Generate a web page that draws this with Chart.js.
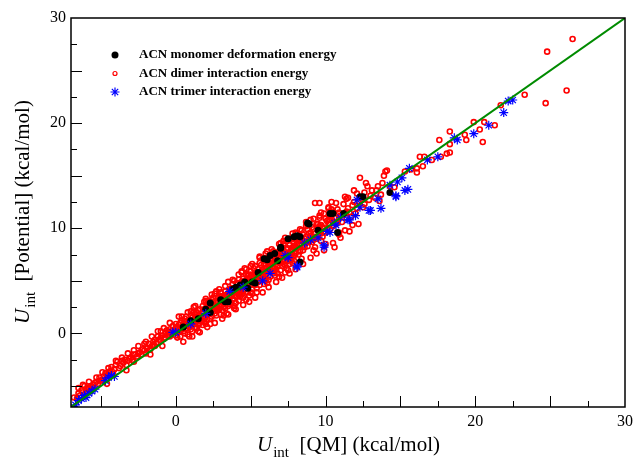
<!DOCTYPE html>
<html>
<head>
<meta charset="utf-8">
<title>Uint potential vs QM</title>
<script src="https://cdn.jsdelivr.net/npm/chart.js@4.4.1/dist/chart.umd.min.js"></script>
<style>
  html, body { margin: 0; padding: 0; background: #fff; }
  canvas { display: block; }
</style>
</head>
<body>
<canvas id="scatter" width="638" height="462"></canvas>
<script>
// values, [QM, potential] in kcal/mol
var seriesLabels = ['ACN monomer deformation energy', 'ACN dimer interaction energy', 'ACN trimer interaction energy'];

var monomerPts = [
  [0.5,0.6],[1.0,1.2],[1.5,1.4],[2.0,2.3],[2.3,2.9],[2.3,2.0],[3.0,3.2],[3.3,3.0],[3.5,3.0],[3.8,4.2],
  [4.0,4.4],[4.3,4.6],[4.6,4.9],[4.8,4.3],[5.1,4.9],[5.3,4.8],[5.5,5.8],[5.9,7.1],[6.1,7.0],[6.3,7.4],
  [6.6,7.6],[6.8,6.9],[7.0,8.1],[7.0,8.2],[7.5,9.0],[7.9,9.2],[8.1,9.3],[8.3,9.2],[8.3,6.8],[8.9,10.4],
  [8.8,10.5],[9.5,9.8],[10.3,11.4],[10.5,11.4],[10.8,9.6],[11.2,11.4],[12.3,13.0],[12.5,13.0],[14.3,13.4]
];

var dimerPts = [
  [-6.8,-6.1],[-6.6,-6.2],[-6.5,-5.7],[-6.4,-5.9],[-6.3,-5.4],[-6.2,-5.6],[-6.1,-5.0],[-6.0,-5.5],[-5.9,-5.3],[-5.8,-5.2],
  [-5.7,-5.0],[-5.6,-5.1],[-5.5,-4.9],[-5.4,-4.7],[-5.2,-4.8],[-5.0,-4.5],[-4.6,-4.0],[-4.4,-3.6],[-4.3,-3.2],[-4.2,-3.7],
  [-4.1,-3.4],[-4.0,-3.0],[-3.9,-2.7],[-3.7,-3.1],[-3.5,-2.8],[-3.4,-2.5],[-3.2,-2.6],[-3.0,-2.3],[-2.9,-2.5],[-2.7,-2.0],
  [-2.6,-2.2],[-2.4,-1.8],[-2.3,-2.0],[-2.1,-1.0],[-2.1,-1.6],[-1.9,-1.4],[-1.8,-1.0],[-1.6,-1.2],[-1.5,-0.8],[-1.3,-0.9],
  [-1.2,-0.3],[-1.1,-0.6],[-1.0,0.2],[-0.9,-0.2],[-0.8,-0.5],[-0.6,0.3],[-0.5,-0.1],[-0.4,0.4],[-0.3,0.0],[-0.2,0.7],
  [-0.1,0.2],[0.0,0.9],[0.1,0.3],
  [-5.9,-5.6],[-5.7,-5.4],[-5.3,-4.6],[-5.1,-4.2],[-4.9,-4.4],[-4.8,-4.1],[-4.5,-3.9],[-4.7,-3.8],[-3.8,-3.3],[-3.6,-2.6],
  [-3.3,-3.0],[-3.1,-2.4],[-2.8,-2.0],[-2.8,-2.7],[-2.5,-1.9],[-2.2,-1.5],[-2.0,-1.9],[-1.7,-1.5],[-1.4,-0.6],[-1.4,-1.2],
  [-1.0,-0.7],[-0.7,0.0],[-0.7,-0.4],[-0.4,-0.3],[-0.2,0.3],[0.0,-0.2],[0.1,0.6],
  [-6.5,-5.2],[-6.2,-4.9],[-5.8,-4.6],[-5.3,-4.2],[-4.9,-3.7],[-4.5,-3.3],[-4.0,-2.6],[-3.6,-2.3],[-3.2,-1.9],[-2.8,-1.6],
  [-2.5,-1.2],[-2.0,-0.8],[-1.6,-0.3],[-1.2,0.2],[-0.8,0.5],[-0.4,1.0],[-1.7,-2.0],[-3.3,-3.5],[-4.6,-4.8],[-0.9,-1.2],
  [0.2,0.8],[0.3,-0.3],[0.4,1.2],[0.5,0.2],[0.6,1.4],[0.7,0.5],[0.8,-0.1],[0.9,1.0],[1.0,1.7],[1.0,0.4],
  [1.1,0.9],[1.2,2.0],[1.3,0.6],[1.4,1.5],[1.5,0.8],[1.6,2.3],[1.7,1.2],[1.8,2.6],[1.9,1.5],[2.0,0.9],
  [2.0,2.4],[2.1,1.8],[2.2,3.0],[2.3,1.4],[2.4,2.7],[2.5,2.1],[2.5,3.4],[2.6,1.9],[2.7,3.1],[2.8,2.2],
  [2.9,3.6],[3.0,2.6],[3.0,1.8],[3.1,3.3],[3.2,2.5],[3.3,4.0],[3.4,1.9],[3.4,3.0],[3.5,3.8],[3.6,2.8],
  [3.7,4.3],[3.8,3.2],[3.9,2.6],[4.0,4.1],[4.0,3.5],[4.1,4.8],[4.2,3.1],[4.3,4.5],[4.4,3.7],[4.5,5.2],
  [4.5,4.0],[4.6,6.2],[4.7,4.4],[4.8,5.5],[4.9,3.6],[4.9,4.8],[5.0,5.9],[5.1,4.2],[5.2,5.3],[5.3,6.4],
  [5.3,4.6],[5.4,5.8],[5.5,4.9],[5.6,6.7],[5.7,5.2],[5.8,6.1],[5.9,4.7],[6.0,6.9],[6.0,5.6],[6.1,6.3],
  [6.2,5.1],[6.3,7.0],[6.4,5.9],[6.5,7.4],[6.5,6.3],[6.6,5.5],[6.7,7.1],[6.8,6.4],[6.9,7.8],[7.0,6.0],
  [7.0,7.3],[7.1,8.2],[7.2,6.6],[7.3,5.8],[7.3,9.1],[7.4,7.5],[7.5,6.9],[7.6,8.4],[7.7,7.2],[7.8,6.7],
  [7.9,8.6],[8.0,7.6],[8.0,8.9],
  [0.5,0.9],[1.2,1.3],[1.8,1.9],[2.3,2.5],[2.8,2.9],[3.3,3.4],[3.8,3.9],[4.3,4.1],[4.8,4.9],[5.3,5.5],
  [5.8,5.7],[6.3,6.5],[6.8,6.9],[7.3,7.4],[7.8,7.9],[1.5,2.2],[2.6,3.8],[3.9,5.0],[4.4,5.8],[5.6,7.2],
  [6.1,7.8],[7.0,8.6],[2.0,3.1],[5.0,3.9],[6.6,5.9],[1.0,2.1],
  [0.2,0.1],[0.3,1.0],[0.4,0.5],[0.6,0.0],[0.6,0.9],[0.7,1.6],[0.8,0.7],[0.9,1.3],[1.1,0.2],[1.1,1.5],
  [1.3,1.1],[1.4,0.5],[1.4,2.0],[1.6,1.0],[1.7,1.7],[1.8,0.8],[1.9,2.3],[2.1,1.3],[2.1,2.8],[2.2,2.2],
  [2.4,1.6],[2.4,3.2],[2.5,2.6],[2.6,2.3],[2.7,1.7],[2.8,3.4],[2.9,2.7],[3.0,3.9],[3.1,2.2],[3.2,3.0],
  [3.3,2.4],[3.4,3.7],[3.5,2.6],[3.6,4.2],[3.6,3.4],[3.7,2.9],[3.8,4.7],[3.9,3.6],[4.0,2.9],[4.1,4.3],
  [4.1,3.5],[4.2,5.1],[4.3,3.9],[4.4,4.5],[4.5,3.4],[4.6,5.0],[4.6,4.2],[4.7,5.6],[4.8,3.9],[4.9,5.2],
  [5.0,4.6],[5.1,5.6],[5.1,3.8],[5.2,6.2],[5.3,5.1],[5.4,4.3],[5.5,6.1],[5.5,5.4],[5.6,4.6],[5.7,6.5],
  [5.8,5.4],[5.9,6.6],[5.9,5.9],[6.0,5.0],[6.1,7.2],[6.2,6.0],[6.2,6.8],[6.3,5.4],[6.4,7.6],[6.4,6.6],
  [6.5,5.7],[6.6,7.0],[6.7,6.1],[6.8,7.5],[6.8,5.7],[6.9,6.8],[7.0,7.9],[7.1,6.4],[7.1,7.0],[7.2,8.5],
  [7.3,6.9],[7.4,6.2],[7.4,8.0],[7.5,7.7],[7.6,6.6],[7.6,9.0],[7.7,8.0],[7.8,7.3],[7.9,6.9],[8.0,8.2],
  [0.3,0.5],[1.0,1.0],[1.6,1.6],[2.2,2.6],[2.7,2.6],[3.2,3.5],[3.7,3.6],[4.2,4.4],[4.7,4.7],[5.2,4.8],
  [5.7,5.9],[6.2,6.3],[6.7,6.6],[7.2,7.3],[7.7,7.6],[3.0,3.0],[4.4,4.9],[5.4,5.2],[6.6,6.2],[7.9,7.4],
  [0.2,1.6],[0.5,-0.8],[0.8,2.0],[1.1,-0.3],[1.3,2.6],[1.6,0.1],[1.9,3.0],[2.1,0.6],[2.4,3.7],[2.6,1.0],
  [2.9,4.2],[3.1,1.4],[3.3,4.5],[3.5,1.8],[3.8,5.1],[4.0,2.3],[4.2,5.6],[4.5,2.7],[4.7,6.1],[4.9,3.0],
  [5.1,6.6],[5.3,3.4],[5.6,7.3],[5.8,3.9],[6.0,7.6],[6.2,4.4],[6.4,8.0],[6.7,4.9],[6.9,8.5],[7.1,5.3],
  [7.4,8.8],[7.6,5.7],[7.8,9.5],[8.0,6.1],[8.3,9.9],[8.5,6.6],[8.7,10.6],[9.0,7.2],[9.2,10.9],[9.4,7.6],
  [9.7,11.5],[9.9,7.9],[10.2,12.0],[10.5,8.6],[10.7,12.4],[11.0,9.1],[11.3,13.0],[11.6,9.7],[11.9,13.6],[12.2,10.4],
  [0.4,1.6],[0.9,-0.3],[1.2,2.5],[1.5,0.2],[2.0,3.3],[2.3,0.9],[2.7,4.0],[3.2,1.7],[3.5,4.9],[3.9,2.4],
  [4.4,5.9],[4.7,3.2],[5.0,6.4],[5.4,3.9],[5.8,7.1],[6.1,4.8],[6.5,7.8],[6.9,5.4],[7.2,8.8],[7.5,6.0],
  [8.0,9.6],[8.4,7.1],[8.8,10.3],[9.2,7.9],[9.6,11.2],[10.0,8.5],[10.4,11.8],[10.9,9.4],[11.4,12.8],[11.8,10.3],
  [-2.0,-1.3],[-1.5,-1.1],[-1.0,-0.4],[-0.5,0.1],[0.0,0.5],[0.3,0.2],[0.6,0.7],[0.9,0.6],[1.2,1.0],[1.5,1.2],
  [1.8,1.6],[2.1,2.3],[2.4,2.2],[2.7,2.3],[3.0,3.5],[3.3,2.9],[3.6,3.9],[3.9,4.2],[4.2,3.8],[4.5,4.7],
  [4.8,5.2],[5.1,5.1],[5.4,5.5],[5.7,5.6],[6.0,6.2],[6.3,6.1],[6.6,6.8],[6.9,7.2],[7.2,7.0],[7.5,8.1],
  [7.8,8.2],[8.1,8.1],[8.4,8.5],[8.7,8.6],[9.0,9.6],[9.3,9.2],[9.6,10.2],[9.9,9.7],[10.2,10.8],[10.5,10.6],
  [0.1,-0.4],[0.7,1.1],[1.3,1.8],[1.9,1.1],[2.5,3.0],[3.1,2.7],[3.7,4.0],[4.3,3.5],[4.9,5.6],[5.5,5.0],
  [6.1,5.8],[6.7,7.4],[7.3,6.5],[7.9,8.3],[8.5,8.8],[9.1,9.0],[9.7,9.5],[10.3,10.4],[10.9,10.9],[11.4,11.6],
  [2.9,2.3],[3.5,3.3],[4.1,4.0],[4.7,5.0],[5.3,5.8],[5.9,5.3],[6.5,6.6],[7.1,7.6],[7.7,7.0],[8.3,8.8],
  [8.1,9.5],[8.2,7.5],[8.3,8.4],[8.4,9.8],[8.5,7.9],[8.6,9.0],[8.7,10.2],[8.8,8.3],[8.9,9.5],[9.0,10.8],
  [9.1,8.7],[9.2,9.9],[9.3,12.4],[9.3,8.2],[9.4,10.4],[9.5,9.2],[9.6,12.4],[9.6,11.0],[9.7,8.8],[9.8,10.1],
  [9.9,11.4],[10.0,9.6],[10.1,10.7],[10.2,11.9],[10.3,9.9],[10.4,12.5],[10.4,10.9],[10.5,11.6],[10.6,8.2],[10.7,10.4],
  [10.8,11.8],[10.9,9.6],[11.0,11.2],[11.2,12.3],[11.3,9.8],[11.4,11.0],[11.5,12.9],[11.6,11.5],[11.8,12.2],[12.0,11.4],
  [12.1,13.3],[12.2,12.6],[12.3,14.8],[12.5,12.0],[12.6,13.4],[12.7,14.3],[12.8,14.0],[12.9,12.7],[13.1,13.6],[13.3,12.9],
  [13.5,14.0],[13.7,13.2],[13.8,14.3],[13.9,15.0],[14.0,15.4],[14.1,15.5],[14.3,14.0],[14.6,13.9],
  [8.1,8.5],[8.2,9.0],[8.3,7.8],[8.4,8.9],[8.5,9.4],[8.6,8.2],[8.7,9.2],[8.8,9.9],[8.9,8.7],[9.0,9.3],
  [9.1,10.1],[9.2,8.9],[9.3,9.5],[9.4,9.0],[9.5,10.4],[9.6,9.7],[9.7,10.3],[9.8,9.2],[9.9,10.0],[10.0,10.9],
  [10.1,9.9],[10.2,10.4],[10.3,11.2],[10.5,10.2],[10.6,11.0],[10.8,10.6],[10.9,11.5],[11.1,10.6],[11.3,11.4],[11.5,11.9],
  [11.7,11.1],[11.9,12.5],[12.1,11.9],[12.4,12.8],[12.6,12.3],[13.0,13.1],[13.4,13.6],[13.6,12.6],
  [15.3,15.4],[15.7,15.6],[16.1,15.7],[16.1,15.3],[16.5,15.9],[16.3,16.8],[16.6,16.8],[17.1,16.5],[17.7,16.8],[18.1,17.1],
  [18.3,17.2],[18.3,18.0],[17.6,18.4],[18.3,19.2],[19.3,18.9],[19.4,18.4],[19.9,20.1],[20.3,19.4],[20.6,20.1],[20.5,18.2],
  [21.3,19.8],[21.7,21.7],[23.3,22.7],[24.7,21.9],[26.1,23.1],[24.8,26.8],[26.5,28.0]
];

var trimerPts = [
  [-6.7,-6.8],[-6.5,-6.4],[-6.3,-6.2],[-6.1,-5.9],[-6.0,-6.1],[-5.8,-5.7],[-5.6,-5.5],[-5.4,-5.3],[-4.7,-4.5],[-4.5,-4.2],
  [-4.3,-4.0],[-4.1,-4.1],[-0.2,0.1],[0.0,0.1],[1.0,0.9],[2.0,1.9],[3.6,4.0],[4.5,4.4],[5.8,5.0],[6.3,5.7],
  [7.3,7.4],[7.5,7.2],[8.1,6.4],[8.1,6.3],[8.6,8.6],[9.0,8.9],[9.5,9.1],[9.9,8.2],[9.9,8.4],[10.1,9.7],
  [10.3,9.6],[10.6,10.5],[10.7,10.3],[11.0,11.0],[11.5,10.8],[11.6,10.8],[12.0,11.2],[12.1,12.7],[12.3,12.0],[12.9,11.7],
  [13.0,11.7],[13.5,12.8],[13.7,11.9],[14.7,13.1],[14.7,13.0],[15.1,14.8],[15.3,13.6],[14.8,14.4],[14.3,14.1],[15.5,13.7],
  [15.6,15.7],[16.8,16.5],[17.5,16.8],[18.6,18.6],[18.8,18.4],[19.9,19.0],[20.9,19.8],[21.9,21.0],[22.2,22.1],[22.5,22.2]
];

var diagonal = [[-7,-7],[30,30]];

var axisMin = -7, axisMax = 30;
var labelTicks = [0, 10, 20, 30];
var majorTicks = [-5, 0, 5, 10, 15, 20, 25];
var minorTicks = [-2.5, 2.5, 7.5, 12.5, 17.5, 22.5, 27.5];

function toXY(pts) {
  return pts.map(function (p) { return {x: p[0], y: p[1]}; });
}

var serif = '"Liberation Serif", "DejaVu Serif", serif';

// inward ticks, frame, axis titles and the in-plot legend
var decor = {
  id: 'decor',
  afterDatasetsDraw: function (chart) {
    var ctx = chart.ctx, a = chart.chartArea;
    var xs = chart.scales.x, ys = chart.scales.y;
    ctx.save();
    ctx.strokeStyle = '#000';
    ctx.lineWidth = 1;
    ctx.beginPath();
    function tick(v, len) {
      var px = Math.round(xs.getPixelForValue(v)) + 0.5;
      ctx.moveTo(px, a.bottom); ctx.lineTo(px, a.bottom - len);
      var py = Math.round(ys.getPixelForValue(v)) + 0.5;
      ctx.moveTo(a.left, py); ctx.lineTo(a.left + len, py);
    }
    majorTicks.forEach(function (v) { tick(v, 11); });
    minorTicks.forEach(function (v) { tick(v, 6); });
    ctx.stroke();

    ctx.lineWidth = 1.5;
    ctx.strokeRect(a.left, a.top, a.right - a.left, a.bottom - a.top);

    // legend
    var lx = a.left + 44, ly = a.top + 37, gap = 18.5;
    chart.data.datasets.slice(0, 3).forEach(function (ds, i) {
      var y = ly + i * gap;
      ctx.fillStyle = ds.backgroundColor;
      ctx.strokeStyle = ds.borderColor;
      ctx.lineWidth = i === 1 ? 1.2 : ds.borderWidth;
      Chart.helpers.drawPoint(ctx, {pointStyle: ds.pointStyle, radius: i === 1 ? 2 : ds.pointRadius, rotation: 0, borderWidth: ds.borderWidth}, lx, y);
      ctx.fillStyle = '#000';
      ctx.font = 'bold 13px ' + serif;
      ctx.textBaseline = 'middle';
      ctx.textAlign = 'left';
      ctx.fillText(ds.label, lx + 24, y);
    });

    // axis titles
    function title(x, y, rot, tail) {
      ctx.save();
      ctx.translate(x, y);
      ctx.rotate(rot);
      ctx.fillStyle = '#000';
      ctx.textBaseline = 'alphabetic';
      ctx.textAlign = 'left';
      var f1 = 'italic 21px ' + serif, f2 = '15px ' + serif, f3 = '21px ' + serif;
      ctx.font = f1; var w1 = ctx.measureText('U').width;
      ctx.font = f2; var w2 = ctx.measureText('int').width;
      ctx.font = f3; var w3 = ctx.measureText(tail).width;
      var x0 = -(w1 + w2 + w3) / 2;
      ctx.font = f1; ctx.fillText('U', x0, 0);
      ctx.font = f2; ctx.fillText('int', x0 + w1 + 1, 6);
      ctx.font = f3; ctx.fillText(tail, x0 + w1 + w2 + 1, 0);
      ctx.restore();
    }
    title((a.left + a.right) / 2, 451, 0, '  [QM] (kcal/mol)');
    title(29, (a.top + a.bottom) / 2, -Math.PI / 2, '  [Potential] (kcal/mol)');
    ctx.restore();
  }
};

function axis(fit) {
  return {
    type: 'linear',
    min: axisMin,
    max: axisMax,
    afterBuildTicks: function (s) { s.ticks = labelTicks.map(function (v) { return {value: v}; }); },
    afterFit: fit,
    grid: {display: false, drawTicks: false},
    border: {display: false},
    ticks: {color: '#000', padding: 5, font: {family: serif, size: 16}, maxRotation: 0}
  };
}

new Chart(document.getElementById('scatter'), {
  type: 'scatter',
  data: {
    datasets: [
      {label: seriesLabels[0], data: toXY(monomerPts), pointStyle: 'circle', pointRadius: 3.5,
       backgroundColor: '#000', borderColor: '#000', borderWidth: 0, order: 2},
      {label: seriesLabels[1], data: toXY(dimerPts), pointStyle: 'circle', pointRadius: 2.5,
       backgroundColor: 'rgba(0,0,0,0)', borderColor: '#ff0000', borderWidth: 1.6, order: 3},
      {label: seriesLabels[2], data: toXY(trimerPts), pointStyle: 'star', pointRadius: 4.5,
       backgroundColor: '#0000ff', borderColor: '#0000ff', borderWidth: 1.2, order: 1},
      {label: 'y = x', data: toXY(diagonal), showLine: true, pointRadius: 0,
       borderColor: '#008b00', borderWidth: 2, order: 0}
    ]
  },
  options: {
    responsive: false,
    animation: false,
    devicePixelRatio: 1,
    layout: {padding: {top: 18, right: 10, left: 0, bottom: 0}},
    plugins: {legend: {display: false}, tooltip: {enabled: false}},
    scales: {
      x: axis(function (s) { s.height = 55; }),
      y: axis(function (s) { s.width = 71; })
    }
  },
  plugins: [decor]
});
</script>
</body>
</html>
